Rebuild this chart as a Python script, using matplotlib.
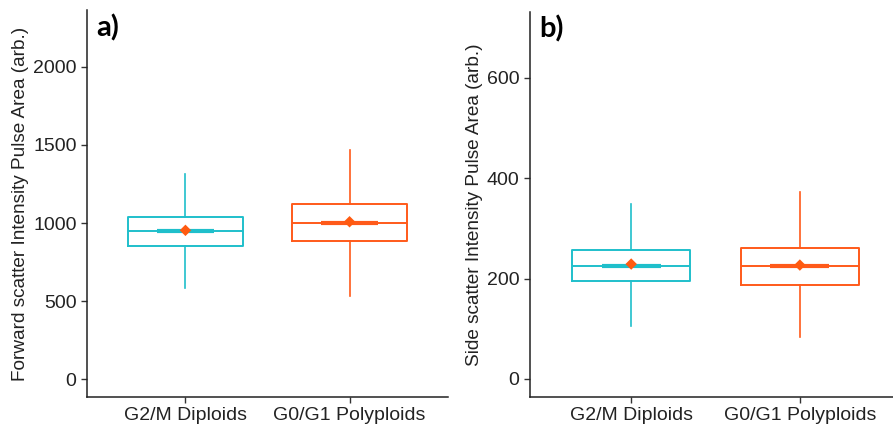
import numpy as np
import matplotlib.pyplot as plt

plt.rcParams['font.family'] = ['Liberation Sans', 'DejaVu Sans']

groups = ["G2/M Diploids", "G0/G1 Polyploids"]
colors = ["#1FBFCB", "#FF5A1A"]
mean_color = "#FF5A10"

# forward scatter (panel a)
fsc_low = [585, 534]
fsc_q1 = [855, 887]
fsc_med = [949, 1002]
fsc_q3 = [1038, 1122]
fsc_high = [1314, 1468]
fsc_mean = [953, 1008]

# side scatter (panel b)
ssc_low = [106, 83]
ssc_q1 = [196, 187]
ssc_med = [226, 225]
ssc_q3 = [257, 261]
ssc_high = [349, 372]
ssc_mean = [229, 227]

fig = plt.figure(figsize=(8.93, 4.26), dpi=100)
ax1 = fig.add_axes([0.0974, 0.0681, 0.4043, 0.9084])
ax2 = fig.add_axes([0.5935, 0.0681, 0.4155, 0.9044])


def draw(ax, low, q1, med, q3, high, mean, ylim, yticks, ylabel, tag):
    pos = [1, 2]
    for i in range(2):
        st = [dict(whislo=low[i], q1=q1[i], med=med[i], q3=q3[i], whishi=high[i], fliers=[])]
        c = colors[i]
        ax.bxp(st, positions=[pos[i]], widths=0.7, showcaps=False,
               boxprops=dict(color=c, lw=1.4),
               whiskerprops=dict(color=c, lw=1.2),
               medianprops=dict(color=c, lw=1.4))
        ax.hlines(med[i], pos[i] - 0.175, pos[i] + 0.175, color=c, lw=3.0, zorder=3)
    ax.scatter(pos, mean, marker="D", s=34, color=mean_color, zorder=4, edgecolors="none")
    ax.set_xlim(0.4, 2.6)
    ax.set_ylim(*ylim)
    ax.set_yticks(yticks)
    ax.set_xticks(pos)
    ax.set_xticklabels(groups)
    ax.tick_params(labelsize=14, length=4, width=1, color="#333333", labelcolor="#222222")
    ax.set_ylabel(ylabel, fontsize=13.7, color="#222222", labelpad=3)
    for s in ["top", "right"]:
        ax.spines[s].set_visible(False)
    for s in ["left", "bottom"]:
        ax.spines[s].set_linewidth(1.1)
        ax.spines[s].set_color("#222222")
    ax.text(0.025, 0.99, tag, transform=ax.transAxes, fontsize=21, fontweight="bold",
            family=["Lato", "DejaVu Sans"], va="top", ha="left")


draw(ax1, fsc_low, fsc_q1, fsc_med, fsc_q3, fsc_high, fsc_mean,
     (-115, 2365), [0, 500, 1000, 1500, 2000],
     "Forward scatter Intensity Pulse Area (arb.)", "a)")
draw(ax2, ssc_low, ssc_q1, ssc_med, ssc_q3, ssc_high, ssc_mean,
     (-36, 732), [0, 200, 400, 600],
     "Side scatter Intensity Pulse Area (arb.)", "b)")

fig.savefig("out.png", dpi=100)
